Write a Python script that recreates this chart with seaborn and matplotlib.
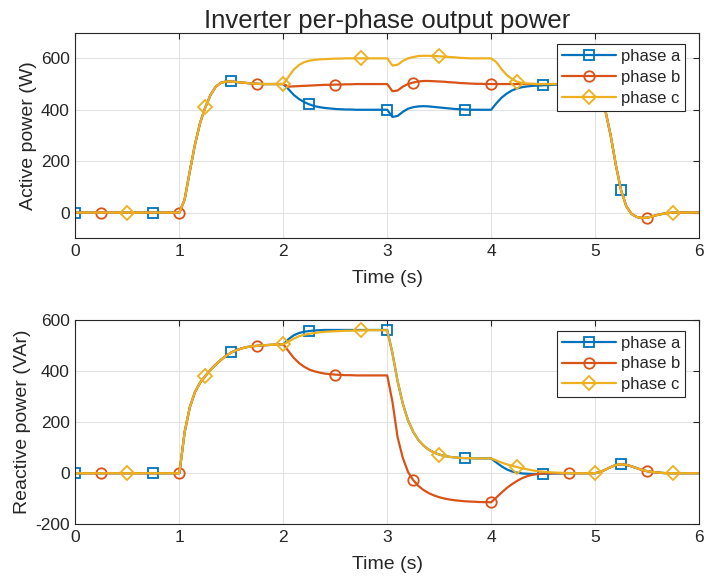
import numpy as np
import matplotlib
matplotlib.use("Agg")
import matplotlib.pyplot as plt
import seaborn as sns

# Sample times (s), one sample every 50 ms
time_s = np.linspace(0.0, 6.0, 121)

# Active power per phase (W)
p_phase_a = [
    0, 0, 0, 0, 0, 0, 0, 0, 0, 0, 0, 0, 0, 0, 0, 0, 0, 0, 0, 0, 0,
    50, 160, 265, 350, 410, 458, 490, 505, 510, 510,
    508, 506, 504, 502, 501, 500, 500, 500, 500, 500,
    480, 458, 442, 430, 421, 414, 410, 407, 405, 403,
    402, 401, 401, 400, 400, 400, 400, 400, 400, 400,
    372, 376, 392, 404, 410, 413, 414, 413, 411, 409,
    407, 405, 403, 402, 401, 400, 400, 400, 400, 400,
    425, 447, 463, 475, 483, 488, 491, 493, 494, 495,
    496, 497, 498, 498, 499, 499, 500, 500, 500, 500,
    470, 395, 300, 185, 87, 25, -5, -17, -21, -20,
    -15, -9, -5, -2, 0, 0, 0, 0, 0, 0,
]
p_phase_b = [
    0, 0, 0, 0, 0, 0, 0, 0, 0, 0, 0, 0, 0, 0, 0, 0, 0, 0, 0, 0, 0,
    50, 160, 265, 350, 410, 458, 490, 505, 510, 510,
    508, 506, 504, 502, 501, 500, 500, 500, 500, 500,
    490, 491, 492, 493, 494, 495, 496, 497, 497, 498,
    498, 499, 499, 500, 500, 500, 500, 500, 500, 500,
    472, 475, 490, 500, 506, 510, 512, 512, 511, 510,
    509, 507, 506, 504, 503, 502, 501, 501, 500, 500,
    500, 500, 500, 500, 500, 500, 500, 500, 500, 500,
    500, 500, 500, 500, 500, 500, 500, 500, 500, 500,
    470, 395, 300, 185, 87, 25, -5, -17, -21, -20,
    -15, -9, -5, -2, 0, 0, 0, 0, 0, 0,
]
p_phase_c = [
    0, 0, 0, 0, 0, 0, 0, 0, 0, 0, 0, 0, 0, 0, 0, 0, 0, 0, 0, 0, 0,
    50, 160, 265, 350, 410, 458, 490, 505, 510, 510,
    508, 506, 504, 502, 501, 500, 500, 500, 500, 500,
    528, 556, 574, 585, 591, 594, 596, 597, 598, 599,
    599, 600, 600, 600, 600, 600, 600, 600, 600, 600,
    572, 575, 590, 600, 605, 609, 610, 610, 609, 608,
    607, 605, 604, 602, 601, 600, 600, 600, 600, 600,
    585, 558, 535, 520, 509, 504, 502, 501, 500, 500,
    500, 500, 500, 500, 500, 500, 500, 500, 500, 500,
    470, 395, 300, 185, 87, 25, -5, -17, -21, -20,
    -15, -9, -5, -2, 0, 0, 0, 0, 0, 0,
]

# Reactive power per phase (VAr)
q_phase_a = [
    0, 0, 0, 0, 0, 0, 0, 0, 0, 0, 0, 0, 0, 0, 0, 0, 0, 0, 0, 0, 0,
    160, 258, 318, 355, 381, 405, 426, 444, 460, 473,
    482, 489, 494, 497, 499, 501, 502, 503, 504, 505,
    525, 540, 549, 554, 557, 559, 560, 561, 561, 561,
    561, 561, 561, 561, 561, 561, 561, 561, 561, 561,
    470, 360, 272, 207, 162, 130, 108, 92, 81, 73,
    68, 64, 62, 60, 59, 59, 58, 58, 58, 58,
    42, 27, 15, 7, 2, -1, -2, -3, -3, -2,
    -2, -1, -1, 0, 0, 0, 0, 0, 0, 0,
    5, 14, 24, 32, 35, 33, 27, 20, 13, 8,
    5, 3, 1, 0, 0, 0, 0, 0, 0, 0,
]
q_phase_b = [
    0, 0, 0, 0, 0, 0, 0, 0, 0, 0, 0, 0, 0, 0, 0, 0, 0, 0, 0, 0, 0,
    160, 258, 318, 355, 381, 405, 426, 444, 460, 473,
    482, 489, 494, 497, 499, 501, 502, 503, 504, 505,
    478, 452, 432, 417, 406, 399, 394, 390, 388, 386,
    385, 384, 384, 383, 383, 383, 383, 383, 383, 383,
    280, 140, 60, 5, -27, -50, -66, -78, -87, -94,
    -99, -103, -106, -108, -110, -111, -112, -113, -113, -114,
    -95, -76, -58, -43, -30, -19, -11, -6, -3, -1,
    0, 0, 0, 0, 0, 0, 0, 0, 0, 0,
    5, 14, 24, 32, 35, 33, 27, 20, 13, 8,
    5, 3, 1, 0, 0, 0, 0, 0, 0, 0,
]
q_phase_c = [
    0, 0, 0, 0, 0, 0, 0, 0, 0, 0, 0, 0, 0, 0, 0, 0, 0, 0, 0, 0, 0,
    160, 258, 318, 355, 381, 405, 426, 444, 460, 473,
    482, 489, 494, 497, 499, 501, 502, 503, 504, 505,
    515, 527, 536, 542, 546, 549, 552, 554, 555, 556,
    557, 558, 558, 559, 559, 560, 560, 560, 560, 560,
    470, 360, 272, 207, 162, 130, 108, 92, 81, 73,
    68, 64, 62, 60, 59, 59, 58, 58, 58, 58,
    50, 42, 35, 29, 24, 19, 15, 11, 8, 6,
    4, 3, 2, 1, 1, 0, 0, 0, 0, 0,
    5, 14, 24, 32, 35, 33, 27, 20, 13, 8,
    5, 3, 1, 0, 0, 0, 0, 0, 0, 0,
]

phase_labels = ["phase a", "phase b", "phase c"]
phase_colors = ["#0072BD", "#D95319", "#EDB120"]
phase_markers = ["s", "o", "D"]
marker_offsets = [0, 5, 10]   # markers every 0.75 s, staggered by 0.25 s

x_ticks = [0, 1, 2, 3, 4, 5, 6]
p_ticks = [0, 200, 400, 600]
q_ticks = [-200, 0, 200, 400, 600]

sns.set_theme(style="whitegrid")
plt.rcParams["font.family"] = ["Liberation Sans", "DejaVu Sans"]
ink = "#262626"
plt.rcParams.update({
    "axes.edgecolor": ink,
    "axes.labelcolor": ink,
    "xtick.color": ink,
    "ytick.color": ink,
    "text.color": ink,
    "grid.color": "#e3e3e3",
    "grid.linewidth": 0.8,
    "axes.linewidth": 0.8,
    "axes.unicode_minus": False,
})

fig = plt.figure(figsize=(7.04, 5.83), dpi=100)
ax_p = fig.add_axes([0.1072, 0.5913, 0.8857, 0.3527])
ax_q = fig.add_axes([0.1072, 0.1007, 0.8857, 0.3504])

n_samples = len(time_s)


def draw_phases(ax, series):
    for vals, lab, col, mk, off in zip(series, phase_labels, phase_colors,
                                       phase_markers, marker_offsets):
        sns.lineplot(x=time_s, y=vals, ax=ax, color=col, label=lab,
                     estimator=None, errorbar=None, sort=False,
                     linewidth=1.6, marker=mk, markersize=7.5,
                     markerfacecolor="none", markeredgecolor=col,
                     markeredgewidth=1.3,
                     markevery=slice(off, n_samples - 1, 15))


draw_phases(ax_p, [p_phase_a, p_phase_b, p_phase_c])
draw_phases(ax_q, [q_phase_a, q_phase_b, q_phase_c])

for ax, yl, yticks, ylim, leg_y in [
    (ax_p, "Active power (W)", p_ticks, (-100, 700), 0.945),
    (ax_q, "Reactive power (VAr)", q_ticks, (-200, 600), 0.948),
]:
    ax.set_xlim(0, 6)
    ax.set_ylim(*ylim)
    ax.set_xticks(x_ticks)
    ax.set_yticks(yticks)
    ax.set_xlabel("Time (s)", fontsize=14, labelpad=8)
    ax.set_ylabel(yl, fontsize=14, labelpad=3)
    ax.tick_params(direction="in", length=4, width=0.8, labelsize=12.5,
                   top=True, right=True, pad=4)
    for s in ax.spines.values():
        s.set_visible(True)
        s.set_color(ink)
    leg = ax.legend(loc="upper right", bbox_to_anchor=(0.9775, leg_y),
                    borderaxespad=0, fontsize=12, handlelength=3.2,
                    labelspacing=0.35, handletextpad=0.3, borderpad=0.3,
                    fancybox=False, framealpha=1, edgecolor=ink)
    leg.get_frame().set_linewidth(0.8)

ax_p.set_title("Inverter per-phase output power", fontsize=18.5, pad=3)

fig.savefig("out.png", dpi=100)
